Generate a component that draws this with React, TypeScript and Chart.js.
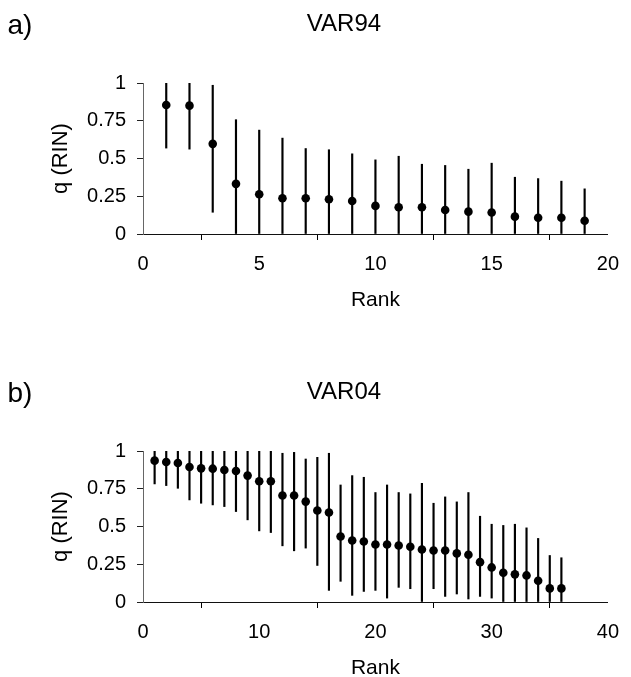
import React, { useEffect, useRef } from "react";
import { Chart, registerables } from "chart.js";

Chart.register(...registerables);

// ---- Panel a) VAR94 ----
const ranksA = [1, 2, 3, 4, 5, 6, 7, 8, 9, 10, 11, 12, 13, 14, 15, 16, 17, 18, 19];
const qA = [0.854, 0.85, 0.597, 0.332, 0.263, 0.237, 0.237, 0.23, 0.219, 0.186, 0.177, 0.177, 0.159, 0.148, 0.142, 0.115, 0.108, 0.108, 0.088];
const lowA = [0.569, 0.562, 0.144, 0, 0, 0, 0, 0, 0, 0, 0, 0, 0, 0, 0, 0, 0, 0, 0];
const highA = [1, 1, 0.985, 0.757, 0.688, 0.635, 0.566, 0.558, 0.531, 0.491, 0.515, 0.462, 0.454, 0.429, 0.469, 0.376, 0.367, 0.35, 0.299];

// ---- Panel b) VAR04 ----
const ranksB = [1, 2, 3, 4, 5, 6, 7, 8, 9, 10, 11, 12, 13, 14, 15, 16, 17, 18, 19, 20, 21, 22, 23, 24, 25, 26, 27, 28, 29, 30, 31, 32, 33, 34, 35, 36];
const qB = [0.936, 0.927, 0.921, 0.894, 0.885, 0.883, 0.874, 0.868, 0.837, 0.8, 0.8, 0.705, 0.705, 0.665, 0.606, 0.593, 0.434, 0.407, 0.401, 0.381, 0.381, 0.374, 0.366, 0.348, 0.341, 0.341, 0.322, 0.313, 0.264, 0.229, 0.194, 0.183, 0.176, 0.141, 0.09, 0.09];
const lowB = [0.782, 0.771, 0.753, 0.676, 0.654, 0.643, 0.632, 0.599, 0.544, 0.471, 0.46, 0.372, 0.339, 0.357, 0.242, 0.077, 0.137, 0.044, 0.07, 0.077, 0.026, 0.097, 0.088, 0, 0.088, 0.037, 0.053, 0.02, 0.037, 0.026, 0, 0, 0, 0, 0, 0];
const highB = [1, 1, 1, 1, 1, 1, 1, 1, 1, 1, 1, 0.985, 0.991, 0.947, 0.958, 0.985, 0.775, 0.837, 0.826, 0.725, 0.775, 0.725, 0.716, 0.786, 0.654, 0.696, 0.663, 0.725, 0.568, 0.515, 0.507, 0.515, 0.491, 0.421, 0.308, 0.293];

const yTickLabels = ["0", "0.25", "0.5", "0.75", "1"];
const titleA = "VAR94";
const titleB = "VAR04";
const panelLabelA = "a)";
const panelLabelB = "b)";
const xAxisTitle = "Rank";
const yAxisTitle = "q (RIN)";
const xMaxA = 20;
const xStepA = 5;
const xMaxB = 40;
const xStepB = 10;

const FONT = "'Liberation Sans', Arial, Helvetica, sans-serif";

type PanelProps = {
  ranks: number[];
  q: number[];
  low: number[];
  high: number[];
  title: string;
  label: string;
  xMax: number;
  xStep: number;
  top: number;
};

function Panel({ ranks, q, low, high, title, label, xMax, xStep, top }: PanelProps) {
  const ref = useRef<HTMLCanvasElement | null>(null);
  useEffect(() => {
    if (!ref.current) return;
    const chart = new Chart(ref.current, {
      type: "scatter",
      data: {
        datasets: [
          {
            type: "scatter",
            data: ranks.map((r, i) => ({ x: r, y: q[i] })),
            backgroundColor: "#000",
            borderColor: "#000",
            borderWidth: 0,
            pointRadius: 4.3,
            order: 0,
          } as any,
          {
            type: "bar",
            data: ranks.map((r, i) => ({ x: r, y: [low[i], high[i]] })),
            backgroundColor: "#000",
            borderWidth: 0,
            barThickness: 1.5,
            order: 1,
          } as any,
        ],
      },
      options: {
        animation: false,
        responsive: false,
        layout: { padding: { left: 76, right: 19, top: 0, bottom: 0 } },
        plugins: {
          legend: { display: false },
          tooltip: { enabled: false },
          title: {
            display: true,
            text: title,
            color: "#000",
            fullSize: true,
            font: { family: FONT, size: 24, weight: "normal", lineHeight: 1.2 },
            padding: { top: 10, bottom: 44.2 },
          },
        },
        scales: {
          x: {
            type: "linear",
            min: 0,
            max: xMax,
            offset: false,
            afterFit: (s: any) => {
              s.height = 75;
            },
            ticks: {
              stepSize: xStep,
              color: "#000",
              padding: 12,
              maxRotation: 0,
              font: { family: FONT, size: 20 },
              callback: (v: any) => String(v),
            },
            grid: {
              display: true,
              drawOnChartArea: false,
              drawTicks: true,
              tickLength: 6,
              color: "#000",
              lineWidth: 1,
            },
            border: { display: true, color: "#111", width: 1 },
            title: {
              display: true,
              text: xAxisTitle,
              color: "#000",
              font: { family: FONT, size: 21, lineHeight: 1 },
              padding: { top: 0, bottom: -1.5 },
            },
          },
          y: {
            type: "linear",
            min: 0,
            max: 1,
            afterFit: (s: any) => {
              s.width = 67;
            },
            ticks: {
              stepSize: 0.25,
              color: "#000",
              padding: 11,
              font: { family: FONT, size: 20 },
              callback: (v: any) => {
                const s = String(v);
                return yTickLabels.includes(s) ? s : "";
              },
            },
            grid: {
              display: true,
              drawOnChartArea: false,
              drawTicks: true,
              tickLength: 6,
              color: "#222",
              lineWidth: 1,
            },
            border: { display: true, color: "#666", width: 1 },
            title: {
              display: true,
              text: yAxisTitle,
              color: "#000",
              font: { family: FONT, size: 22, lineHeight: 1 },
              padding: { top: -25.8, bottom: 0 },
            },
          },
        },
      } as any,
    });
    return () => chart.destroy();
  }, []);
  return (
    <div style={{ position: "absolute", left: 0, top, width: 631, height: 309 }}>
      <canvas ref={ref} width={631} height={309} style={{ display: "block", width: 631, height: 309 }} />
      <div
        style={{
          position: "absolute",
          left: 7.5,
          top: 11.3,
          fontFamily: FONT,
          fontSize: 28,
          lineHeight: "28px",
          color: "#000",
          whiteSpace: "nowrap",
        }}
      >
        {label}
      </div>
    </div>
  );
}

export default function App() {
  return (
    <div
      style={{
        position: "absolute",
        left: 0,
        top: 0,
        width: 631,
        height: 677,
        overflow: "hidden",
        background: "#fff",
      }}
    >
      <Panel ranks={ranksA} q={qA} low={lowA} high={highA} title={titleA} label={panelLabelA} xMax={xMaxA} xStep={xStepA} top={0} />
      <Panel ranks={ranksB} q={qB} low={lowB} high={highB} title={titleB} label={panelLabelB} xMax={xMaxB} xStep={xStepB} top={368} />
    </div>
  );
}
